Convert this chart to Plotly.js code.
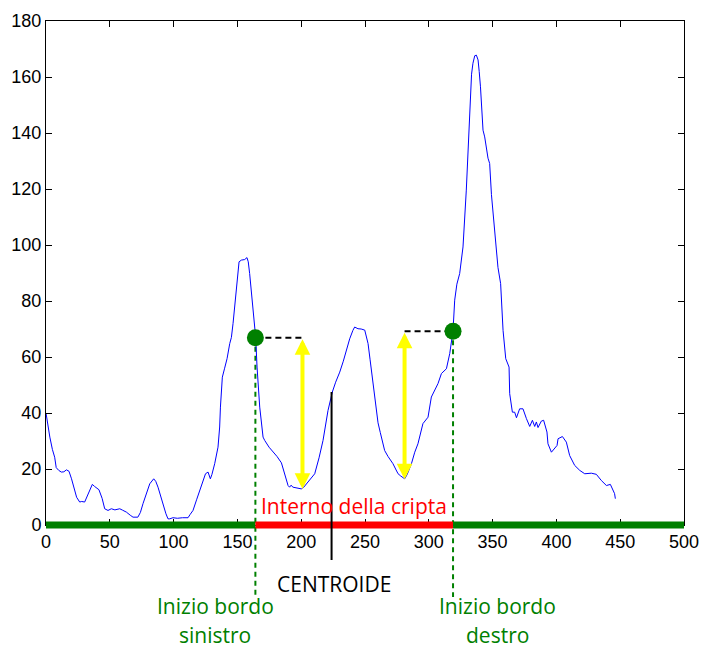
<!DOCTYPE html>
<html>
<head>
<meta charset="utf-8">
<script src="https://cdn.plot.ly/plotly-3.0.1.min.js"></script>
<style>
  html, body { margin: 0; padding: 0; background: #ffffff; }
  #chart { width: 701px; height: 651px; }
</style>
</head>
<body>
<div id="chart"></div>
<script>
// Intensity profile across the crypt
const profileX = [0, 1.5, 3, 5, 6.8, 8, 10, 12, 14, 16, 18, 20, 22, 24, 26.4, 28, 30.3, 33, 36.3, 38,
  41.5, 44, 46, 48.6, 51.2, 54, 57.8, 60, 63, 66, 68.2, 72, 74, 76, 79, 81.3, 84.4, 86, 87.8, 90,
  91.7, 94, 95.6, 97, 99.5, 103, 107, 111.3, 113, 115.2, 118, 120.5, 123, 125, 127, 128.8, 130, 132.2, 134.8, 136.1,
  136.7, 138.2, 140, 141.9, 144, 145.3, 146.6, 149.2, 151.3, 153.1, 155.7, 157.5, 158.5, 159.6, 162.2, 164.3, 165.4, 167.5, 170.1, 171.4,
  174.8, 177.9, 181, 184.5, 187, 188.4, 189.7, 190.9, 192, 193.6, 196, 198, 200.1, 202, 204, 207, 210.6, 214, 217.1, 221,
  224.4, 227, 230.2, 233, 235.4, 238, 240.5, 241.9, 244.5, 247, 249.8, 252.4, 254, 256.3, 258, 260.2, 262, 265.4, 268, 271.9,
  274, 275.9, 278, 281.1, 283, 286.4, 289, 291.5, 295.4, 299.4, 302, 305, 307.2, 309.9, 313.8, 316.4, 317.5, 319, 320.3, 322,
  324.2, 326.8, 329.4, 331.5, 332.6, 333.5, 334.6, 336, 337.3, 338.6, 339.5, 340.5, 342.5, 343.8, 346.4, 347.7, 349.1, 351, 352.9, 354.2,
  356.3, 358.2, 360.3, 362.9, 363.4, 365.5, 367.3, 368.7, 371.2, 373.8, 376.5, 379.1, 381.2, 383, 384.3, 385.6, 388.2, 390, 392.6, 393.4,
  396.1, 398, 400.5, 401.3, 404.7, 407.8, 410.4, 414.3, 418.3, 422.2, 427.4, 431.3, 435.2, 439.2, 442.3, 445.6, 446.2];
const profileY = [40, 35, 31.4, 27, 24.2, 20.5, 19.5, 18.9, 19, 19.7, 19.2, 16.5, 13.5, 9.9, 8.2, 8.4, 8.2, 11, 14.5, 13.8,
  12.6, 9.5, 5.8, 5.2, 5.8, 5.4, 5.8, 5.3, 4.6, 3.5, 2.8, 2.8, 4.5, 7.6, 11.5, 14.7, 16.5, 15.6, 13.5, 10,
  7, 4, 2.2, 2.2, 2.6, 2.4, 2.6, 2.6, 3.8, 5.2, 9, 12.3, 15.5, 18.3, 18.9, 16.5, 18, 21.9, 27.8, 35,
  42.1, 52.8, 56, 59.4, 64.8, 67, 72, 84, 94, 94.6, 94.8, 95.5, 94, 89.8, 77.9, 67.1, 56.4, 42.1, 31.4, 30.2,
  27.8, 26.3, 24.5, 22.2, 18.3, 17, 14.1, 13.5, 14.2, 13.5, 13.2, 12.9, 12.9, 13.5, 14.7, 16.5, 18.3, 24, 30.2, 40.9,
  47.5, 51, 54.6, 58.5, 62.4, 66.5, 69.5, 70.7, 70.1, 70, 69.6, 64.8, 59, 50.5, 44, 36.5, 33, 26.6, 24.5, 21.9,
  20, 18.3, 17.5, 16.5, 18, 21.9, 26, 29, 36.2, 38.5, 45.7, 48.5, 50.5, 54.1, 55.8, 61.2, 65, 69.5, 80.3, 86,
  89.8, 99.3, 119.6, 139.9, 156, 161, 164.9, 167.6, 167.8, 166.1, 162, 156.5, 141, 138.6, 131, 129.1, 118, 108, 99.3, 92,
  86.2, 69.5, 59.4, 56.4, 46.9, 40.3, 40.3, 38.3, 41.5, 41.5, 38, 35.2, 37.4, 35.2, 36.8, 34.8, 37.1, 37.4, 33.2, 29,
  26, 27, 28.4, 30.8, 31.6, 29.6, 24.8, 21.3, 19.5, 18.3, 18.5, 18.1, 15.9, 14.1, 14.5, 11.2, 9.4];

// Border start points (left, right) and the valley minima below them
const borderX = [164.1, 319];
const borderY = [66.9, 69.2];
const minimaX = [201, 281];
const minimaY = [12.9, 16.3];

// Centroid of the crypt
const centroidX = 223.8;
const centroidY = 47.5;

// Axes
const xRange = [0, 500];
const yRange = [0, 180];
const xTicks = [0, 50, 100, 150, 200, 250, 300, 350, 400, 450, 500];
const yTicks = [0, 20, 40, 60, 80, 100, 120, 140, 160, 180];

// Labels
const labelInterior = 'Interno della cripta';
const labelCentroid = 'CENTROIDE';
const labelBorderLine1 = 'Inizio bordo';
const labelBorderLeft = 'sinistro';
const labelBorderRight = 'destro';

const GREEN = '#008000';
const RED = '#ff0000';
const YELLOW = '#ffff00';
const TEXT_FONT = 'Open Sans, Noto Sans, sans-serif';

// fraction of the plot height for a y data value (for paper-referenced shapes)
const yFrac = v => (v - yRange[0]) / (yRange[1] - yRange[0]);

const M = { l: 46, r: 17, t: 21, b: 126 };
const plotH = 651 - M.t - M.b;
const below = px => -px / plotH;

const traces = [
  {
    x: profileX, y: profileY, type: 'scatter', mode: 'lines',
    line: { color: '#0000ff', width: 1 }, hoverinfo: 'skip'
  },
  // dashed levels from each border point toward the arrow
  {
    x: [borderX[0], minimaX[0]], y: [borderY[0], borderY[0]], type: 'scatter', mode: 'lines',
    line: { color: '#000000', width: 2, dash: '6px,4px' }, hoverinfo: 'skip'
  },
  {
    x: [minimaX[1], borderX[1]], y: [borderY[1], borderY[1]], type: 'scatter', mode: 'lines',
    line: { color: '#000000', width: 2, dash: '6px,4px' }, hoverinfo: 'skip'
  },
  {
    x: borderX, y: borderY, type: 'scatter', mode: 'markers',
    marker: { color: GREEN, size: 17, line: { width: 0 } }, cliponaxis: false, hoverinfo: 'skip'
  }
];

const shapes = [
  // axis segments: outside, interior, outside
  { type: 'line', xref: 'x', yref: 'paper', x0: xRange[0], x1: borderX[0], y0: yFrac(0), y1: yFrac(0),
    line: { color: GREEN, width: 7 }, layer: 'above' },
  { type: 'line', xref: 'x', yref: 'paper', x0: borderX[0], x1: borderX[1], y0: yFrac(0), y1: yFrac(0),
    line: { color: RED, width: 7 }, layer: 'above' },
  { type: 'line', xref: 'x', yref: 'paper', x0: borderX[1], x1: xRange[1], y0: yFrac(0), y1: yFrac(0),
    line: { color: GREEN, width: 7 }, layer: 'above' },
  // border drop lines
  { type: 'line', xref: 'x', yref: 'paper', x0: borderX[0], x1: borderX[0], y0: yFrac(borderY[0]), y1: below(72),
    line: { color: GREEN, width: 2, dash: '5px,4px' }, layer: 'below' },
  { type: 'line', xref: 'x', yref: 'paper', x0: borderX[1], x1: borderX[1], y0: yFrac(borderY[1]), y1: below(72),
    line: { color: GREEN, width: 2, dash: '5px,4px' }, layer: 'below' },
  // centroid marker line
  { type: 'line', xref: 'x', yref: 'paper', x0: centroidX, x1: centroidX, y0: yFrac(centroidY), y1: below(35),
    line: { color: '#000000', width: 2 }, layer: 'above' }
];

function depthArrow(i) {
  return {
    xref: 'x', yref: 'y', axref: 'x', ayref: 'y',
    x: minimaX[i], y: minimaY[i], ax: minimaX[i], ay: borderY[i],
    text: '', showarrow: true, arrowside: 'end+start',
    arrowhead: 2, startarrowhead: 2, arrowsize: 0.78, startarrowsize: 0.78,
    arrowwidth: 4, arrowcolor: YELLOW, standoff: 0, startstandoff: 0,
    font: { size: 1 }
  };
}

function label(text, x, shiftX, shiftY, color, anchor) {
  return {
    xref: 'x', yref: 'paper', x: x, y: 0, xshift: shiftX, yshift: shiftY,
    text: text, showarrow: false, xanchor: 'center', yanchor: anchor || 'middle',
    borderpad: 0,
    font: { family: TEXT_FONT, size: 21, color: color }
  };
}

const annotations = [
  depthArrow(0),
  depthArrow(1),
  label(labelInterior, (borderX[0] + borderX[1]) / 2, 0, 19.5, RED),
  label(labelCentroid, centroidX, 2, -59, '#000000'),
  label(labelBorderLine1, borderX[0], -40, -81, GREEN),
  label(labelBorderLeft, borderX[0], -40, -(M.b - 1), GREEN, 'bottom'),
  label(labelBorderLine1, borderX[1], 44, -81, GREEN),
  label(labelBorderRight, borderX[1], 44, -(M.b - 1), GREEN, 'bottom')
];

const axisCommon = {
  showgrid: false, zeroline: false, showline: true, linecolor: '#000000', linewidth: 1,
  mirror: 'ticks', ticks: 'inside', ticklen: 6, tickwidth: 1, tickcolor: '#000000',
  tickfont: { family: 'Liberation Sans, Arial, sans-serif', size: 18, color: '#000000' }
};

const layout = {
  width: 701, height: 651,
  margin: M,
  paper_bgcolor: '#ffffff',
  plot_bgcolor: 'rgba(0,0,0,0)',
  showlegend: false,
  xaxis: Object.assign({}, axisCommon, { range: xRange, tickvals: xTicks, ticktext: xTicks.map(String) }),
  yaxis: Object.assign({}, axisCommon, { range: yRange, tickvals: yTicks, ticktext: yTicks.map(String) }),
  shapes: shapes,
  annotations: annotations
};

Plotly.newPlot('chart', traces, layout, { staticPlot: true, displayModeBar: false });
</script>
</body>
</html>
